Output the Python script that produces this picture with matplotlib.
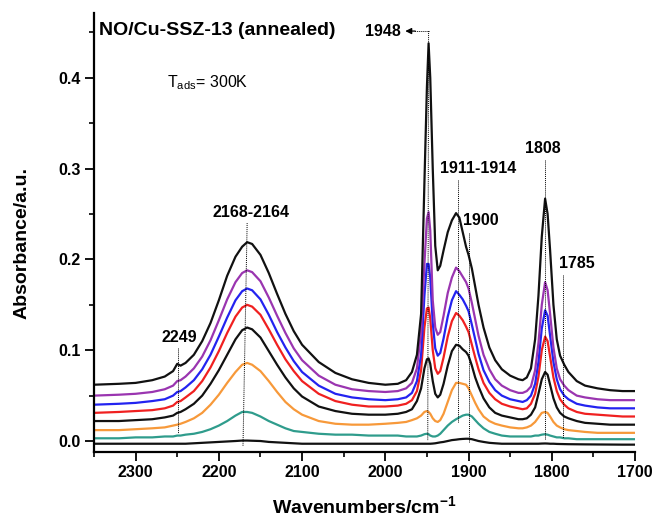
import matplotlib
matplotlib.use("Agg")
import matplotlib.pyplot as plt
from matplotlib.ticker import MultipleLocator, FormatStrFormatter

plt.rcParams['font.family'] = ['Liberation Sans', 'DejaVu Sans']
plt.rcParams['mathtext.fontset'] = 'custom'
plt.rcParams['mathtext.rm'] = 'Liberation Sans'
plt.rcParams['mathtext.bf'] = 'Liberation Sans:bold'
plt.rcParams['mathtext.it'] = 'Liberation Sans:italic'

# ---------------- data ----------------
wavenumber = [2350, 2320, 2300, 2280, 2265, 2255, 2250, 2246, 2240, 2230,
              2220, 2210, 2200, 2190, 2180, 2172, 2166, 2160, 2150, 2140,
              2130, 2120, 2110, 2100, 2080, 2060, 2040, 2020, 2000, 1985,
              1975, 1968, 1962, 1957, 1953, 1950, 1948, 1946, 1943, 1940,
              1937, 1934, 1930, 1925, 1920, 1915, 1911, 1907, 1903, 1900,
              1896, 1892, 1888, 1882, 1875, 1868, 1860, 1850, 1840, 1835,
              1830, 1825, 1820, 1816, 1812, 1808, 1805, 1802, 1798, 1794,
              1790, 1785, 1780, 1770, 1760, 1745, 1730, 1715, 1700]

spec_black_top = [.062, .063, .064, .067, .071, .077, .085, .083, .086, .095,
                  .110, .130, .155, .182, .203, .214, .219, .217, .205, .185,
                  .162, .140, .121, .106, .087, .075, .068, .064, .062, .063,
                  .067, .076, .095, .140, .285, .390, .438, .400, .300, .215,
                  .188, .193, .210, .230, .243, .251, .246, .230, .214, .205,
                  .190, .170, .150, .125, .103, .089, .079, .072, .068, .067,
                  .070, .080, .112, .160, .225, .267, .250, .210, .150, .112,
                  .094, .084, .076, .066, .061, .058, .056, .055, .055]

spec_purple = [.050, .051, .052, .054, .057, .061, .066, .067, .071, .080,
               .093, .111, .133, .156, .175, .185, .188, .186, .176, .158,
               .138, .119, .102, .089, .072, .062, .057, .055, .054, .055,
               .058, .064, .080, .120, .195, .245, .252, .232, .155, .125,
               .117, .120, .138, .163, .180, .191, .187, .181, .175, .168,
               .152, .134, .116, .095, .079, .068, .061, .056, .053, .053,
               .055, .060, .078, .108, .150, .175, .166, .140, .103, .080,
               .068, .061, .056, .050, .048, .046, .045, .045, .045]

spec_blue = [.040, .041, .042, .044, .046, .050, .054, .055, .059, .067,
             .079, .095, .115, .136, .155, .165, .168, .166, .156, .139,
             .120, .103, .088, .076, .061, .052, .048, .046, .045, .046,
             .048, .053, .066, .095, .160, .195, .195, .180, .130, .102,
             .094, .097, .113, .137, .155, .165, .161, .156, .149, .143,
             .128, .112, .096, .078, .065, .056, .050, .046, .044, .043,
             .045, .050, .063, .087, .124, .144, .138, .116, .087, .068,
             .057, .050, .046, .041, .039, .037, .036, .036, .036]

spec_red = [.031, .032, .033, .034, .036, .039, .043, .044, .048, .055,
            .066, .081, .099, .119, .137, .147, .150, .148, .139, .123,
            .106, .090, .077, .066, .052, .044, .040, .038, .038, .039,
            .041, .045, .055, .078, .125, .146, .147, .135, .100, .080,
            .074, .077, .092, .115, .132, .141, .138, .133, .126, .120,
            .106, .092, .079, .064, .053, .046, .041, .038, .036, .035,
            .036, .041, .052, .071, .100, .115, .110, .093, .070, .055,
            .046, .040, .036, .032, .030, .029, .028, .027, .027]

spec_black_mid = [.022, .022, .023, .024, .026, .028, .031, .032, .035, .041,
                  .050, .063, .078, .095, .112, .122, .125, .123, .114, .099,
                  .084, .070, .058, .049, .038, .033, .030, .029, .029, .030,
                  .032, .035, .044, .058, .080, .090, .091, .085, .066, .052,
                  .048, .051, .063, .083, .099, .106, .105, .101, .098, .094,
                  .083, .070, .060, .047, .037, .031, .028, .026, .024, .024,
                  .025, .029, .037, .052, .068, .076, .073, .062, .047, .037,
                  .031, .027, .025, .022, .020, .019, .018, .018, .018]

spec_orange = [.012, .012, .013, .014, .015, .017, .018, .019, .021, .025,
               .031, .040, .051, .064, .076, .084, .086, .084, .077, .066,
               .054, .043, .035, .029, .022, .019, .018, .018, .019, .020,
               .021, .023, .025, .028, .032, .033, .032, .030, .025, .022,
               .021, .023, .030, .043, .056, .064, .064, .063, .062, .058,
               .050, .042, .035, .027, .022, .019, .017, .015, .014, .014,
               .015, .017, .021, .026, .031, .032, .031, .027, .021, .017,
               .015, .013, .012, .011, .010, .009, .009, .009, .009]

spec_teal = [.003, .003, .004, .004, .005, .005, .006, .006, .007, .008,
             .010, .013, .017, .022, .028, .032, .032, .031, .027, .022,
             .018, .014, .011, .010, .008, .007, .007, .006, .006, .006,
             .005, .005, .005, .006, .0075, .008, .0075, .006, .005, .005,
             .006, .008, .012, .017, .021, .024, .026, .028, .029, .029,
             .027, .023, .019, .014, .010, .008, .006, .005, .005, .005,
             .005, .005, .006, .006, .007, .0075, .007, .006, .005, .004,
             .004, .003, .003, .002, .002, .002, .002, .002, .002]

spec_black_bottom = [-.003, -.003, -.003, -.003, -.003, -.003, -.003, -.003, -.003, -.0025,
                     -.002, -.0015, -.001, -.0005, 0.0, .0005, .0005, .0003, 0.0, -.001,
                     -.0015, -.002, -.0025, -.003, -.003, -.003, -.003, -.003, -.003, -.003,
                     -.003, -.003, -.003, -.003, -.003, -.003, -.003, -.003, -.0028, -.0025,
                     -.002, -.0015, -.001, 0.0, .001, .0015, .002, .0023, .0025, .0025,
                     .002, .001, 0.0, -.001, -.002, -.0025, -.003, -.003, -.003, -.003,
                     -.003, -.003, -.003, -.003, -.0028, -.0027, -.0028, -.003, -.003, -.0032,
                     -.0033, -.0034, -.0035, -.0036, -.0037, -.0038, -.0039, -.004, -.004]

series = [
    (spec_black_bottom, '#111111'),
    (spec_teal, '#2f9c8c'),
    (spec_orange, '#f7993a'),
    (spec_black_mid, '#111111'),
    (spec_red, '#f02020'),
    (spec_blue, '#2323f0'),
    (spec_purple, '#9a35b0'),
    (spec_black_top, '#111111'),
]

# peak marker lines: (x_top, y_top, x_bottom, y_bottom)
marker_lines = [
    (2249, 0.102, 2249, 0.009),
    (2166, 0.240, 2171, -0.006),
    (1948, 0.4515, 1949, 0.001),
    (1913, 0.287, 1913, 0.020),
    (1900, 0.229, 1900, -0.001),
    (1808, 0.309, 1808, 0.001),
    (1787, 0.183, 1787, 0.003),
]
# peak labels: (text, x, y)
peak_labels = [
    ('2249', 2248, 0.1145),
    ('2168-2164', 2161.5, 0.252),
    ('1948', 2003, 0.4515),
    ('1911-1914', 1889, 0.2996),
    ('1900', 1885.5, 0.2434),
    ('1808', 1811, 0.3227),
    ('1785', 1770, 0.196),
]

y_ticks = [0.0, 0.1, 0.2, 0.3, 0.4]
x_ticks = [2300, 2200, 2100, 2000, 1900, 1800, 1700]

# ---------------- figure ----------------
fig = plt.figure(figsize=(6.55, 5.16), dpi=100)
ax = fig.add_axes([94/655, 1 - 452/516, (635 - 94)/655, (452 - 13)/516])

for vals, col in series:
    ax.plot(wavenumber, vals, color=col, lw=1.6, solid_joinstyle='round')

for xt, yt, xb, yb in marker_lines:
    ax.plot([xt, xb], [yt, yb], color='black', lw=0.7, ls=(0, (1, 1)))

# 1948 arrow pointing to label
ax.plot([1948, 1966], [0.4515, 0.4515], color='black', lw=0.7, ls=(0, (1, 1)))
ax.annotate('', xy=(1976, 0.4515), xytext=(1964, 0.4515),
            arrowprops=dict(arrowstyle='-|>', color='black', lw=0.9,
                            mutation_scale=9, shrinkA=0, shrinkB=0))

for txt, x, y in peak_labels:
    ax.text(x, y, txt, ha='center', va='center', fontsize=11.5, fontweight='bold')

ax.text(2344, 0.4526, 'NO/Cu-SSZ-13 (annealed)', ha='left', va='center',
        fontsize=14, fontweight='bold')
ax.text(2262, 0.395, r'T$_{\mathrm{ads}}$= 300K', ha='left', va='center', fontsize=11.5)

ax.set_xlim(2350, 1700)
ax.set_ylim(-0.0121, 0.4714)
ax.set_xticks(x_ticks)
ax.set_yticks(y_ticks)
ax.xaxis.set_minor_locator(MultipleLocator(50))
ax.yaxis.set_minor_locator(MultipleLocator(0.05))
ax.yaxis.set_major_formatter(FormatStrFormatter('%.1f'))

for s in ['top', 'right']:
    ax.spines[s].set_visible(False)
for s in ['left', 'bottom']:
    ax.spines[s].set_linewidth(1.6)

ax.tick_params(which='major', direction='out', length=6.5, width=1.3, labelsize=11.5, pad=3)
ax.tick_params(which='minor', direction='out', length=3.8, width=1.2)
for lbl in ax.get_xticklabels() + ax.get_yticklabels():
    lbl.set_fontweight('bold')

fig.text(22/655, 1 - 243/516, 'Absorbance/a.u.', rotation=90, ha='center', va='center',
         fontsize=14, fontweight='bold')
fig.text(364/655, 1 - 506/516, r'Wavenumbers/cm$^{\mathbf{-1}}$', ha='center', va='center',
         fontsize=14, fontweight='bold')

fig.savefig('out.png', dpi=100)
